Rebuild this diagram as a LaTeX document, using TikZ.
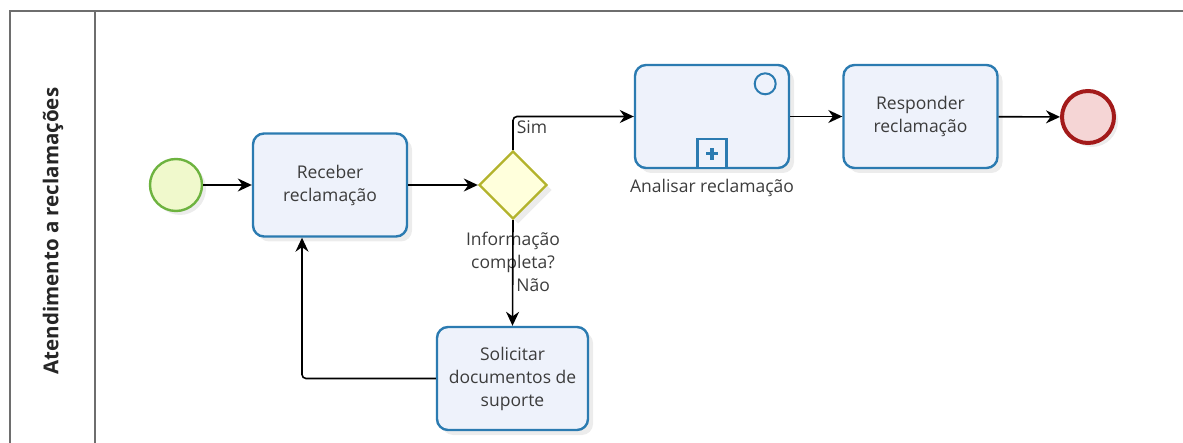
\documentclass[tikz,border=0pt]{standalone}
\usepackage{fontspec}
\setmainfont{Open Sans}
\usepackage{xcolor}
\usepackage{tikz}
\usetikzlibrary{shapes.geometric, arrows.meta, positioning, shadows}

\definecolor{taskline}{HTML}{2B7BB1}
\definecolor{taskfill}{HTML}{EEF2FB}
\definecolor{gwline}{HTML}{B3B32C}
\definecolor{gwfill}{HTML}{FFFFDC}
\definecolor{startline}{HTML}{6DB33F}
\definecolor{startfill}{HTML}{F0F9CC}
\definecolor{endline}{HTML}{A31A1A}
\definecolor{endfill}{HTML}{F5D5D5}
\definecolor{poolline}{HTML}{6E6E6E}
\definecolor{txt}{HTML}{3C3C3C}

\begin{document}
\begin{tikzpicture}[x=1pt, y=-1pt,
    font=\fontsize{17.5}{23}\selectfont, text=txt,
    task/.style={draw=taskline, line width=2.4pt, fill=taskfill, rounded corners=11pt,
        minimum width=154pt, minimum height=103pt, align=center,
        drop shadow={opacity=0.15, shadow xshift=5pt, shadow yshift=-5pt}},
    gate/.style={diamond, aspect=1, draw=gwline, line width=2.4pt, fill=gwfill,
        minimum width=68pt, minimum height=68pt, inner sep=0pt,
        drop shadow={opacity=0.15, shadow xshift=5pt, shadow yshift=-5pt}},
    event/.style={circle, minimum size=52pt, inner sep=0pt,
        drop shadow={opacity=0.15, shadow xshift=4pt, shadow yshift=-4pt}},
    flow/.style={-{Stealth[length=14pt, width=13pt]}, line width=1.6pt, draw=black}]

    \useasboundingbox (0,0) rectangle (1183,443);

    % pool and lane header
    \draw[poolline, line width=1.8pt] (10,11) rectangle (1195,455);
    \draw[poolline, line width=1.8pt] (95,11) -- (95,455);
    \node[rotate=90, font=\fontsize{20.5}{24}\selectfont\bfseries, text=black!85] (lane) at (53,231) {Atendimento a reclamações};

    % events, tasks and gateway
    \node[event, draw=startline, line width=2.4pt, fill=startfill] (start) at (176,185) {};
    \node[task] (receber) at (330,185) {Receber\\reclamação};
    \node[gate] (gw) at (513,185) {};
    \node[task] (analisar) at (712,116.5) {};
    \node[task] (responder) at (920.5,116.5) {Responder\\reclamação};
    \node[event, draw=endline, line width=4pt, fill=endfill] (finish) at (1088,117) {};
    \node[task, minimum width=151pt] (solicitar) at (512.5,378.5) {Solicitar\\documentos de\\suporte};

    % markers of the sub-process
    \node[circle, draw=taskline, line width=2pt, minimum size=21pt, inner sep=0pt] (timer)
        at ([xshift=-25pt, yshift=-20pt]analisar.north east) {};
    \node[draw=taskline, line width=2.2pt, fill=taskfill, minimum size=29pt, inner sep=0pt,
        anchor=south] (sub) at (analisar.south) {};
    \draw[taskline, line width=3.5pt] ([xshift=-6pt]sub.center) -- ([xshift=6pt]sub.center);
    \draw[taskline, line width=3.5pt] ([yshift=-6pt]sub.center) -- ([yshift=6pt]sub.center);

    % labels
    \node[below=6pt of analisar] (analisarlbl) {Analisar reclamação};
    \node[below=8pt of gw, align=center] (gwlbl) {Informação\\completa?};

    % sequence flows
    \draw[flow] (start) -- (receber);
    \draw[flow] (receber.east) -- (gw.west);
    \draw[flow, rounded corners=4pt] (gw.north) |- node[pos=0.5, anchor=north west, inner sep=3pt] (simlbl) {Sim} (analisar.west);
    \draw[flow] (gw.south) -- node[pos=0.62, anchor=west, inner sep=3pt] (naolbl) {Não} (solicitar.north);
    \draw[flow] (analisar) -- (responder);
    \draw[flow] (responder) -- (finish);
    \draw[flow, rounded corners=4pt] (solicitar.west) -| ([xshift=-28pt]receber.south);
\end{tikzpicture}
\end{document}
